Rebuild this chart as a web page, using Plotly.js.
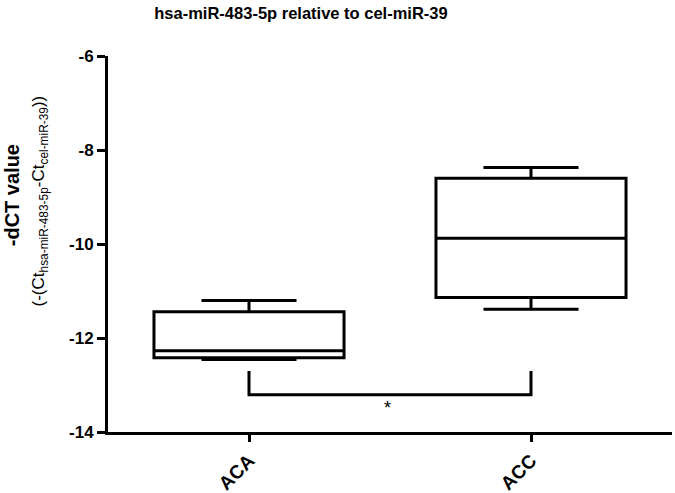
<!DOCTYPE html>
<html>
<head>
<meta charset="utf-8">
<script src="https://cdn.plot.ly/plotly-3.0.1.min.js"></script>
<style>html,body{margin:0;padding:0;background:#fff;}#chart{width:675px;height:493px;}</style>
</head>
<body>
<div id="chart"></div>
<script>
// Data
const categories = ["ACA", "ACC"];
const lowerWhisker = [-12.46, -11.39];
const q1Values = [-12.42, -11.14];
const medianValues = [-12.27, -9.88];
const q3Values = [-11.44, -8.60];
const upperWhisker = [-11.20, -8.37];

// Significance bracket (y values of bracket ends and bar)
const bracketX = ["ACA", "ACA", "ACC", "ACC"];
const bracketY = [-12.70, -13.21, -13.21, -12.70];
const sigLabel = "*";
const sigY = -13.48;

const yTicks = [-14, -12, -10, -8, -6];

const FONT = "Arial, 'Liberation Sans', sans-serif";

const boxTrace = {
  type: "box",
  x: categories,
  q1: q1Values,
  median: medianValues,
  q3: q3Values,
  lowerfence: lowerWhisker,
  upperfence: upperWhisker,
  width: 0.674,
  whiskerwidth: 0.5,
  fillcolor: "#ffffff",
  line: {color: "#000000", width: 3},
  boxpoints: false,
  hoverinfo: "skip",
  showlegend: false
};

const bracketTrace = {
  type: "scatter",
  mode: "lines",
  x: bracketX,
  y: bracketY,
  line: {color: "#000000", width: 3},
  hoverinfo: "skip",
  showlegend: false
};

const layout = {
  width: 675,
  height: 493,
  margin: {l: 108, r: 3, t: 56, b: 61},
  paper_bgcolor: "#ffffff",
  plot_bgcolor: "#ffffff",
  font: {family: FONT, color: "#000000"},
  title: {
    text: "<b>hsa-miR-483-5p relative to cel-miR-39</b>",
    font: {size: 16.5, color: "#000000", family: FONT},
    xref: "container", x: 301 / 675, xanchor: "center",
    yref: "container", y: 1 - 13 / 493, yanchor: "middle"
  },
  annotations: [
    {
      text: "<b>-dCT value</b>",
      xref: "paper", yref: "paper",
      x: -0.170, y: 0.63, xanchor: "center", yanchor: "middle",
      textangle: -90, showarrow: false,
      font: {size: 20, color: "#000000", family: FONT}
    },
    {
      text: "(-(Ct<sub>hsa-miR-483-5p</sub>-Ct<sub>cel-miR-39</sub>))",
      xref: "paper", yref: "paper",
      x: -0.120, y: 0.614, xanchor: "center", yanchor: "middle",
      textangle: -90, showarrow: false,
      font: {size: 17, color: "#000000", family: FONT}
    },
    {
      text: sigLabel,
      xref: "x", yref: "y",
      x: 0.49, y: sigY, xanchor: "center", yanchor: "middle",
      showarrow: false,
      font: {size: 18, color: "#000000", family: FONT}
    }
  ],
  xaxis: {
    type: "category",
    range: [-0.5, 1.5],
    showline: true, linecolor: "#000000", linewidth: 3,
    ticks: "outside", ticklen: 7, tickwidth: 3, tickcolor: "#000000",
    tickangle: -45,
    tickfont: {size: 19, color: "#000000", family: FONT, weight: "bold"},
    showgrid: false, zeroline: false, fixedrange: true
  },
  yaxis: {
    range: [-14, -6],
    tickvals: yTicks,
    ticktext: yTicks.map(String),
    showline: true, linecolor: "#000000", linewidth: 3,
    ticks: "outside", ticklen: 8, tickwidth: 3, tickcolor: "#000000",
    tickfont: {size: 17, color: "#000000", family: FONT, weight: "bold"},
    showgrid: false, zeroline: false, fixedrange: true
  }
};

Plotly.newPlot("chart", [boxTrace, bracketTrace], layout, {displayModeBar: false, staticPlot: true});
</script>
</body>
</html>
